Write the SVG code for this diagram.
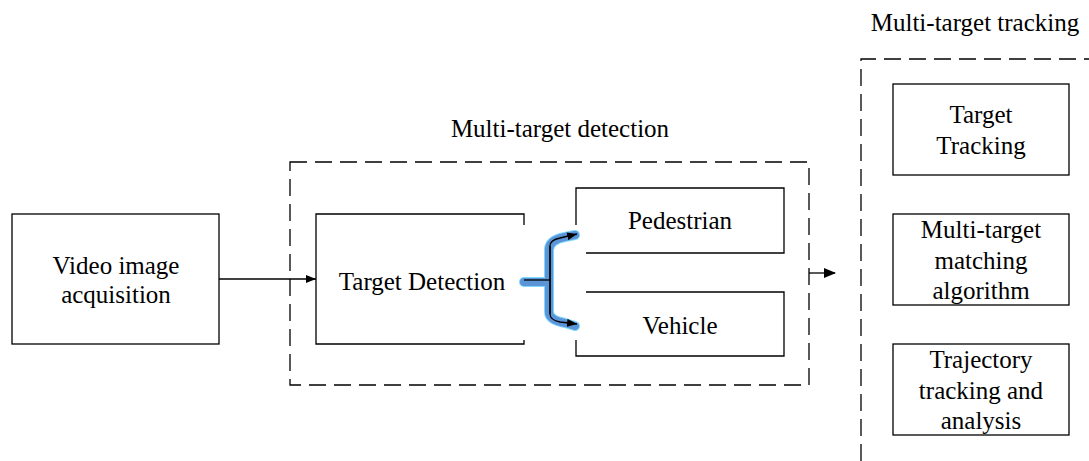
<svg xmlns="http://www.w3.org/2000/svg" width="1089" height="461" viewBox="0 0 1089 461">
<defs>
<style>
.box{fill:#fff;stroke:#000;stroke-width:1.3}
.edge{fill:none;stroke:#000;stroke-width:1.3}
.dash{fill:none;stroke:#000;stroke-width:1.3;stroke-dasharray:17 8}
text{font-family:"Liberation Serif","Times New Roman",serif;font-size:25px;fill:#000;text-anchor:middle}
.glow{fill:none;stroke:#7fd8ff;stroke-width:10;stroke-linecap:round;stroke-linejoin:round}
.blue{fill:none;stroke:#5b95d8;stroke-width:8;stroke-linecap:round;stroke-linejoin:round}
</style>
<marker id="ah" markerWidth="10" markerHeight="8" refX="10" refY="4" orient="auto" markerUnits="userSpaceOnUse">
<path d="M0,0 L10,4 L0,8 Z" fill="#000"/>
</marker>
<marker id="ahs" markerWidth="12" markerHeight="10" refX="11" refY="5" orient="auto" markerUnits="userSpaceOnUse">
<path d="M0,0 L12,5 L0,10 Z" fill="#000"/>
</marker>
</defs>

<g id="group-detection">
<rect class="dash" x="290" y="162" width="519" height="223"/>
<text x="560" y="137">Multi-target detection</text>
</g>

<g id="group-tracking">
<path class="dash" d="M861,461 L861,59 L1095,59"/>
<text x="975" y="31">Multi-target tracking</text>
</g>

<g id="node-video">
<rect class="box" x="12" y="214" width="207" height="130"/>
<text x="116" y="274">Video image</text>
<text x="116" y="303">acquisition</text>
</g>

<g id="node-target-detection">
<path class="edge" d="M524,225 L524,214 L316,214 L316,344 L524,344 L524,340"/>
<text x="422" y="290">Target Detection</text>
</g>

<g id="node-pedestrian">
<path class="edge" d="M576,225 L576,188 L784,188 L784,253 L586,253"/>
<text x="680" y="229">Pedestrian</text>
</g>

<g id="node-vehicle">
<path class="edge" d="M586,292 L784,292 L784,356 L576,356 L576,340"/>
<text x="680" y="334">Vehicle</text>
</g>

<g id="node-target-tracking">
<rect class="box" x="893" y="84" width="176" height="91"/>
<text x="981" y="123">Target</text>
<text x="981" y="154">Tracking</text>
</g>

<g id="node-matching">
<rect class="box" x="893" y="214" width="176" height="91"/>
<text x="981" y="238">Multi-target</text>
<text x="981" y="269">matching</text>
<text x="981" y="299">algorithm</text>
</g>

<g id="node-trajectory">
<rect class="box" x="893" y="344" width="176" height="91"/>
<text x="981" y="368">Trajectory</text>
<text x="981" y="399">tracking and</text>
<text x="981" y="429">analysis</text>
</g>

<g id="connectors">
<line class="edge" x1="219" y1="279" x2="316" y2="279" marker-end="url(#ah)"/>
<line class="edge" x1="809" y1="273" x2="835" y2="273" marker-end="url(#ahs)"/>
<g id="brace">
<path class="glow" d="M524,282 L548,282 M549,250 Q549,240 565,237 L575,235 M549,250 L549,312 Q549,320 565,323 L575,326"/>
<path class="blue" d="M524,282 L548,282 M549,250 Q549,240 565,237 L575,235 M549,250 L549,312 Q549,320 565,323 L575,326"/>
<path class="edge" d="M524,280 L550,280"/>
<path class="edge" d="M550,314 L550,246 Q550,240 560,238 L577,234" marker-end="url(#ah)"/>
<path class="edge" d="M550,246 L550,314 Q550,320 560,322 L577,324" marker-end="url(#ah)"/>
</g>
</g>
</svg>
